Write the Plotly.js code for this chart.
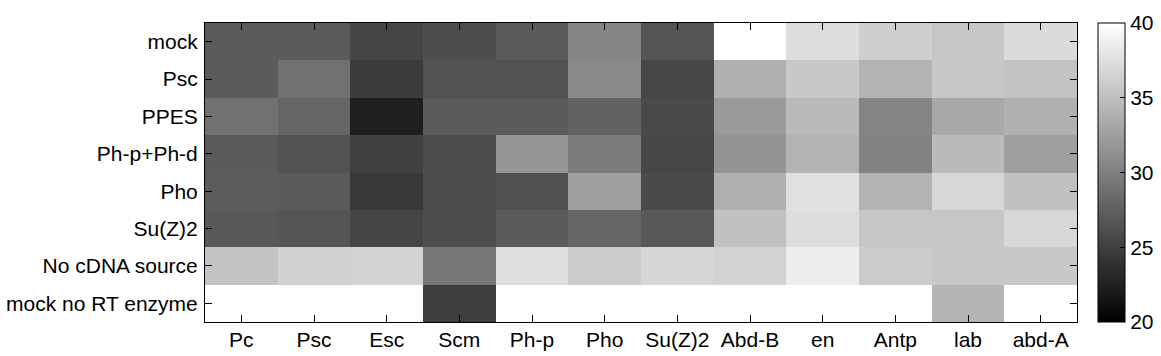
<!DOCTYPE html>
<html>
<head>
<meta charset="utf-8">
<script src="https://cdn.plot.ly/plotly-3.0.1.min.js"></script>
<style>html,body{margin:0;padding:0;background:#fff;}#chart{width:1161px;height:356px;}</style>
</head>
<body>
<div id="chart"></div>
<script>
const genes = ["Pc","Psc","Esc","Scm","Ph-p","Pho","Su(Z)2","Abd-B","en","Antp","lab","abd-A"];
const conditions = ["mock","Psc","PPES","Ph-p+Ph-d","Pho","Su(Z)2","No cDNA source","mock no RT enzyme"];

const ct_mock      = [27.1,27.1,25.4,26.0,27.1,30.4,26.7,40.0,37.3,36.2,35.5,37.2];
const ct_Psc       = [27.1,28.9,24.7,26.4,26.4,30.8,25.6,33.8,35.7,34.0,35.7,35.3];
const ct_PPES      = [28.9,27.9,22.4,27.1,27.1,27.7,25.8,32.1,34.6,30.4,33.2,33.8];
const ct_PhpPhd    = [27.1,26.4,25.0,26.0,31.8,29.7,25.6,31.5,34.0,30.2,34.6,32.5];
const ct_Pho       = [27.2,27.1,24.4,26.0,26.3,32.4,25.8,33.8,37.6,34.0,36.9,35.1];
const ct_SuZ2      = [26.9,26.7,25.4,26.0,27.1,27.9,26.9,35.1,37.3,35.5,35.5,36.9];
const ct_noCDNA    = [35.3,36.3,36.5,29.3,37.4,35.9,36.8,36.5,38.7,35.9,35.7,35.7];
const ct_mockNoRT  = [40.0,40.0,40.0,24.9,40.0,40.0,40.0,40.0,40.0,40.0,34.2,40.0];

const cbTicks = [20,25,30,35,40];
const zMin = 20, zMax = 40;

const z = [ct_mock, ct_Psc, ct_PPES, ct_PhpPhd, ct_Pho, ct_SuZ2, ct_noCDNA, ct_mockNoRT];

const FONT = "Arial, 'Liberation Sans', sans-serif";
const plotW = 1161 - 205 - 84;
const cbX = (1098 - 205) / plotW;

const trace = {
  type: "heatmap",
  x: genes,
  y: conditions,
  z: z,
  zmin: zMin, zmax: zMax,
  colorscale: [[0, "rgb(0,0,0)"], [1, "rgb(255,255,255)"]],
  xgap: 0, ygap: 0,
  colorbar: {
    x: cbX, xanchor: "left", xpad: 0,
    y: 0.5, yanchor: "middle", ypad: 0,
    len: 1, lenmode: "fraction",
    thickness: 27, thicknessmode: "pixels",
    outlinewidth: 1, outlinecolor: "#000",
    tickmode: "array", tickvals: cbTicks, ticktext: cbTicks.map(String),
    ticks: "inside", ticklen: 5, tickcolor: "#000", tickwidth: 1,
    tickfont: {family: FONT, size: 21, color: "#000"},
    ticklabelposition: "outside"
  }
};

const cbShapes = cbTicks.filter(v => v > zMin && v < zMax).map(v => ({
  type: "line", xref: "paper", yref: "paper",
  x0: cbX, x1: cbX + 5 / plotW,
  y0: (v - zMin) / (zMax - zMin), y1: (v - zMin) / (zMax - zMin),
  line: {color: "#000", width: 1}
}));

const layout = {
  width: 1161, height: 356,
  margin: {l: 205, r: 84, t: 23, b: 34, pad: 0, autoexpand: false},
  paper_bgcolor: "#fff", plot_bgcolor: "#fff",
  font: {family: FONT, size: 21, color: "#000"},
  xaxis: {
    type: "category",
    showline: true, linecolor: "#000", linewidth: 1, mirror: "allticks",
    ticks: "inside", ticklen: 7, tickcolor: "#000", tickwidth: 1,
    showgrid: false, zeroline: false,
    tickfont: {family: FONT, size: 21, color: "#000"},
    ticklabelstandoff: -1
  },
  yaxis: {
    type: "category", autorange: "reversed",
    showline: true, linecolor: "#000", linewidth: 1, mirror: "allticks",
    ticks: "inside", ticklen: 7, tickcolor: "#000", tickwidth: 1,
    showgrid: false, zeroline: false,
    tickfont: {family: FONT, size: 21, color: "#000"},
    ticklabelstandoff: 2
  },
  shapes: cbShapes,
  showlegend: false
};

Plotly.newPlot("chart", [trace], layout, {displayModeBar: false, staticPlot: true});
</script>
</body>
</html>
